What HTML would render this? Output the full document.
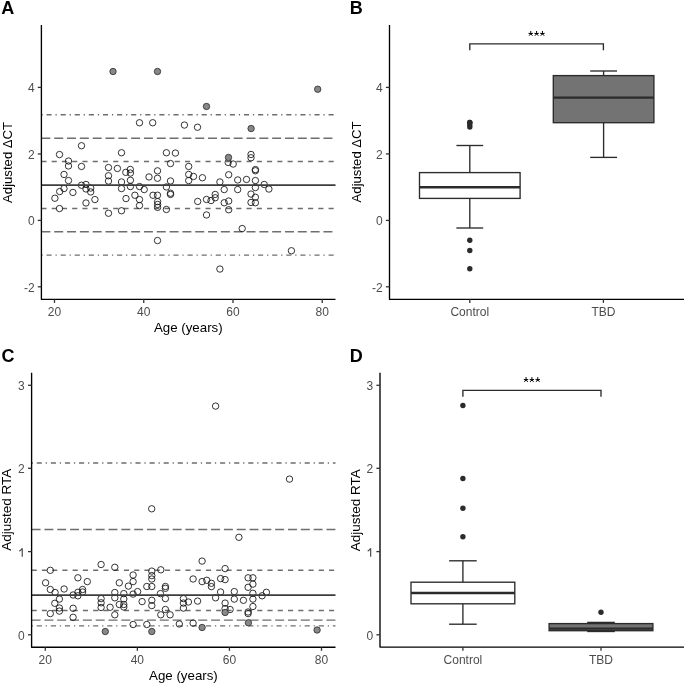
<!DOCTYPE html>
<html><head><meta charset="utf-8"><title>Figure</title>
<style>
html,body{margin:0;padding:0;background:#fff;width:685px;height:683px;overflow:hidden}
svg{display:block;filter:grayscale(1)}
text{font-family:'Liberation Sans',sans-serif}
</style></head>
<body>
<svg width="685" height="683" viewBox="0 0 685 683">
<rect width="685" height="683" fill="#fff"/>
<line x1="41.4" y1="114.7" x2="335.5" y2="114.7" stroke="#6e6e6e" stroke-width="1.45" stroke-dasharray="1.282 3.846 5.128 3.846"/>
<line x1="41.4" y1="138.3" x2="335.5" y2="138.3" stroke="#6e6e6e" stroke-width="1.45" stroke-dasharray="8.974 3.846"/>
<line x1="41.4" y1="161.5" x2="335.5" y2="161.5" stroke="#6e6e6e" stroke-width="1.45" stroke-dasharray="5.128 5.128"/>
<line x1="41.4" y1="208.4" x2="335.5" y2="208.4" stroke="#6e6e6e" stroke-width="1.45" stroke-dasharray="5.128 5.128"/>
<line x1="41.4" y1="231.7" x2="335.5" y2="231.7" stroke="#6e6e6e" stroke-width="1.45" stroke-dasharray="8.974 3.846"/>
<line x1="41.4" y1="255.1" x2="335.5" y2="255.1" stroke="#6e6e6e" stroke-width="1.45" stroke-dasharray="1.282 3.846 5.128 3.846"/>
<circle cx="139.5" cy="122.75" r="3.2" fill="none" stroke="#111111" stroke-width="0.85"/>
<circle cx="152.7" cy="122.75" r="3.2" fill="none" stroke="#111111" stroke-width="0.85"/>
<circle cx="184.39999999999998" cy="125.05" r="3.2" fill="none" stroke="#111111" stroke-width="0.85"/>
<circle cx="197.5" cy="127.25" r="3.2" fill="none" stroke="#111111" stroke-width="0.85"/>
<circle cx="81.5" cy="145.75" r="3.2" fill="none" stroke="#111111" stroke-width="0.85"/>
<circle cx="59.5" cy="154.55" r="3.2" fill="none" stroke="#111111" stroke-width="0.85"/>
<circle cx="121.5" cy="152.75" r="3.2" fill="none" stroke="#111111" stroke-width="0.85"/>
<circle cx="166.39999999999998" cy="152.75" r="3.2" fill="none" stroke="#111111" stroke-width="0.85"/>
<circle cx="175.39999999999998" cy="153.05" r="3.2" fill="none" stroke="#111111" stroke-width="0.85"/>
<circle cx="251.0" cy="154.45" r="3.2" fill="none" stroke="#111111" stroke-width="0.85"/>
<circle cx="251.0" cy="157.75" r="3.2" fill="none" stroke="#111111" stroke-width="0.85"/>
<circle cx="68.5" cy="161.05" r="3.2" fill="none" stroke="#111111" stroke-width="0.85"/>
<circle cx="170.5" cy="163.55" r="3.2" fill="none" stroke="#111111" stroke-width="0.85"/>
<circle cx="228.2" cy="162.45" r="3.2" fill="none" stroke="#111111" stroke-width="0.85"/>
<circle cx="233.2" cy="164.05" r="3.2" fill="none" stroke="#111111" stroke-width="0.85"/>
<circle cx="68.5" cy="165.95" r="3.2" fill="none" stroke="#111111" stroke-width="0.85"/>
<circle cx="81.5" cy="166.45" r="3.2" fill="none" stroke="#111111" stroke-width="0.85"/>
<circle cx="188.7" cy="166.45" r="3.2" fill="none" stroke="#111111" stroke-width="0.85"/>
<circle cx="108.5" cy="167.55" r="3.2" fill="none" stroke="#111111" stroke-width="0.85"/>
<circle cx="117.4" cy="168.45" r="3.2" fill="none" stroke="#111111" stroke-width="0.85"/>
<circle cx="130.29999999999998" cy="169.45" r="3.2" fill="none" stroke="#111111" stroke-width="0.85"/>
<circle cx="255.39999999999998" cy="169.55" r="3.2" fill="none" stroke="#111111" stroke-width="0.85"/>
<circle cx="255.39999999999998" cy="170.75" r="3.2" fill="none" stroke="#111111" stroke-width="0.85"/>
<circle cx="157.5" cy="170.85" r="3.2" fill="none" stroke="#111111" stroke-width="0.85"/>
<circle cx="125.8" cy="172.35" r="3.2" fill="none" stroke="#111111" stroke-width="0.85"/>
<circle cx="130.39999999999998" cy="173.05" r="3.2" fill="none" stroke="#111111" stroke-width="0.85"/>
<circle cx="64.0" cy="174.45" r="3.2" fill="none" stroke="#111111" stroke-width="0.85"/>
<circle cx="188.7" cy="174.45" r="3.2" fill="none" stroke="#111111" stroke-width="0.85"/>
<circle cx="228.7" cy="174.75" r="3.2" fill="none" stroke="#111111" stroke-width="0.85"/>
<circle cx="108.5" cy="175.75" r="3.2" fill="none" stroke="#111111" stroke-width="0.85"/>
<circle cx="193.5" cy="176.45" r="3.2" fill="none" stroke="#111111" stroke-width="0.85"/>
<circle cx="149.0" cy="176.95" r="3.2" fill="none" stroke="#111111" stroke-width="0.85"/>
<circle cx="202.39999999999998" cy="177.75" r="3.2" fill="none" stroke="#111111" stroke-width="0.85"/>
<circle cx="157.5" cy="178.25" r="3.2" fill="none" stroke="#111111" stroke-width="0.85"/>
<circle cx="246.5" cy="179.45" r="3.2" fill="none" stroke="#111111" stroke-width="0.85"/>
<circle cx="237.7" cy="179.95" r="3.2" fill="none" stroke="#111111" stroke-width="0.85"/>
<circle cx="130.39999999999998" cy="180.25" r="3.2" fill="none" stroke="#111111" stroke-width="0.85"/>
<circle cx="68.5" cy="180.55" r="3.2" fill="none" stroke="#111111" stroke-width="0.85"/>
<circle cx="188.7" cy="180.55" r="3.2" fill="none" stroke="#111111" stroke-width="0.85"/>
<circle cx="255.39999999999998" cy="180.55" r="3.2" fill="none" stroke="#111111" stroke-width="0.85"/>
<circle cx="170.5" cy="180.95" r="3.2" fill="none" stroke="#111111" stroke-width="0.85"/>
<circle cx="108.5" cy="181.05" r="3.2" fill="none" stroke="#111111" stroke-width="0.85"/>
<circle cx="121.5" cy="181.95" r="3.2" fill="none" stroke="#111111" stroke-width="0.85"/>
<circle cx="219.89999999999998" cy="181.95" r="3.2" fill="none" stroke="#111111" stroke-width="0.85"/>
<circle cx="86.0" cy="184.45" r="3.2" fill="none" stroke="#111111" stroke-width="0.85"/>
<circle cx="264.2" cy="184.45" r="3.2" fill="none" stroke="#111111" stroke-width="0.85"/>
<circle cx="81.5" cy="185.25" r="3.2" fill="none" stroke="#111111" stroke-width="0.85"/>
<circle cx="130.39999999999998" cy="186.55" r="3.2" fill="none" stroke="#111111" stroke-width="0.85"/>
<circle cx="139.5" cy="186.55" r="3.2" fill="none" stroke="#111111" stroke-width="0.85"/>
<circle cx="166.39999999999998" cy="186.95" r="3.2" fill="none" stroke="#111111" stroke-width="0.85"/>
<circle cx="255.39999999999998" cy="187.55" r="3.2" fill="none" stroke="#111111" stroke-width="0.85"/>
<circle cx="90.7" cy="188.05" r="3.2" fill="none" stroke="#111111" stroke-width="0.85"/>
<circle cx="64.0" cy="188.55" r="3.2" fill="none" stroke="#111111" stroke-width="0.85"/>
<circle cx="121.5" cy="188.55" r="3.2" fill="none" stroke="#111111" stroke-width="0.85"/>
<circle cx="86.0" cy="188.95" r="3.2" fill="none" stroke="#111111" stroke-width="0.85"/>
<circle cx="268.9" cy="189.05" r="3.2" fill="none" stroke="#111111" stroke-width="0.85"/>
<circle cx="144.2" cy="189.55" r="3.2" fill="none" stroke="#111111" stroke-width="0.85"/>
<circle cx="224.2" cy="189.55" r="3.2" fill="none" stroke="#111111" stroke-width="0.85"/>
<circle cx="237.7" cy="189.55" r="3.2" fill="none" stroke="#111111" stroke-width="0.85"/>
<circle cx="59.7" cy="191.55" r="3.2" fill="none" stroke="#111111" stroke-width="0.85"/>
<circle cx="90.7" cy="191.95" r="3.2" fill="none" stroke="#111111" stroke-width="0.85"/>
<circle cx="72.9" cy="192.45" r="3.2" fill="none" stroke="#111111" stroke-width="0.85"/>
<circle cx="170.5" cy="193.25" r="3.2" fill="none" stroke="#111111" stroke-width="0.85"/>
<circle cx="251.0" cy="194.05" r="3.2" fill="none" stroke="#111111" stroke-width="0.85"/>
<circle cx="170.5" cy="194.45" r="3.2" fill="none" stroke="#111111" stroke-width="0.85"/>
<circle cx="215.2" cy="194.45" r="3.2" fill="none" stroke="#111111" stroke-width="0.85"/>
<circle cx="134.89999999999998" cy="195.25" r="3.2" fill="none" stroke="#111111" stroke-width="0.85"/>
<circle cx="153.0" cy="195.25" r="3.2" fill="none" stroke="#111111" stroke-width="0.85"/>
<circle cx="157.5" cy="195.25" r="3.2" fill="none" stroke="#111111" stroke-width="0.85"/>
<circle cx="255.39999999999998" cy="197.25" r="3.2" fill="none" stroke="#111111" stroke-width="0.85"/>
<circle cx="215.2" cy="197.75" r="3.2" fill="none" stroke="#111111" stroke-width="0.85"/>
<circle cx="54.900000000000006" cy="198.25" r="3.2" fill="none" stroke="#111111" stroke-width="0.85"/>
<circle cx="126.0" cy="198.55" r="3.2" fill="none" stroke="#111111" stroke-width="0.85"/>
<circle cx="206.5" cy="199.45" r="3.2" fill="none" stroke="#111111" stroke-width="0.85"/>
<circle cx="94.9" cy="199.55" r="3.2" fill="none" stroke="#111111" stroke-width="0.85"/>
<circle cx="139.5" cy="199.55" r="3.2" fill="none" stroke="#111111" stroke-width="0.85"/>
<circle cx="211.0" cy="200.55" r="3.2" fill="none" stroke="#111111" stroke-width="0.85"/>
<circle cx="157.6" cy="201.65" r="3.2" fill="none" stroke="#111111" stroke-width="0.85"/>
<circle cx="228.7" cy="201.05" r="3.2" fill="none" stroke="#111111" stroke-width="0.85"/>
<circle cx="197.7" cy="201.45" r="3.2" fill="none" stroke="#111111" stroke-width="0.85"/>
<circle cx="251.0" cy="202.45" r="3.2" fill="none" stroke="#111111" stroke-width="0.85"/>
<circle cx="224.2" cy="202.75" r="3.2" fill="none" stroke="#111111" stroke-width="0.85"/>
<circle cx="255.39999999999998" cy="202.75" r="3.2" fill="none" stroke="#111111" stroke-width="0.85"/>
<circle cx="86.0" cy="202.95" r="3.2" fill="none" stroke="#111111" stroke-width="0.85"/>
<circle cx="157.6" cy="204.45" r="3.2" fill="none" stroke="#111111" stroke-width="0.85"/>
<circle cx="139.5" cy="205.55" r="3.2" fill="none" stroke="#111111" stroke-width="0.85"/>
<circle cx="157.6" cy="207.35" r="3.2" fill="none" stroke="#111111" stroke-width="0.85"/>
<circle cx="59.5" cy="208.55" r="3.2" fill="none" stroke="#111111" stroke-width="0.85"/>
<circle cx="166.39999999999998" cy="209.45" r="3.2" fill="none" stroke="#111111" stroke-width="0.85"/>
<circle cx="228.7" cy="209.75" r="3.2" fill="none" stroke="#111111" stroke-width="0.85"/>
<circle cx="121.5" cy="210.75" r="3.2" fill="none" stroke="#111111" stroke-width="0.85"/>
<circle cx="108.5" cy="213.25" r="3.2" fill="none" stroke="#111111" stroke-width="0.85"/>
<circle cx="206.5" cy="214.95" r="3.2" fill="none" stroke="#111111" stroke-width="0.85"/>
<circle cx="242.2" cy="228.55" r="3.2" fill="none" stroke="#111111" stroke-width="0.85"/>
<circle cx="157.5" cy="240.55" r="3.2" fill="none" stroke="#111111" stroke-width="0.85"/>
<circle cx="291.4" cy="250.75" r="3.2" fill="none" stroke="#111111" stroke-width="0.85"/>
<circle cx="219.89999999999998" cy="269.05" r="3.2" fill="none" stroke="#111111" stroke-width="0.85"/>
<line x1="41.4" y1="185.0" x2="335.5" y2="185.0" stroke="#3c3c3c" stroke-width="1.75"/>
<circle cx="113.0" cy="71.5" r="3.2" fill="#888888" stroke="#2a2a2a" stroke-width="0.8"/>
<circle cx="157.5" cy="71.5" r="3.2" fill="#888888" stroke="#2a2a2a" stroke-width="0.8"/>
<circle cx="206.5" cy="106.45" r="3.2" fill="#888888" stroke="#2a2a2a" stroke-width="0.8"/>
<circle cx="317.7" cy="89.25" r="3.2" fill="#888888" stroke="#2a2a2a" stroke-width="0.8"/>
<circle cx="251.1" cy="128.55" r="3.2" fill="#888888" stroke="#2a2a2a" stroke-width="0.8"/>
<circle cx="228.5" cy="157.45" r="3.2" fill="#888888" stroke="#2a2a2a" stroke-width="0.8"/>
<path d="M41.4 25 V299.3 H335.5" fill="none" stroke="#000000" stroke-width="1.35" stroke-linejoin="round"/>
<line x1="37.8" y1="87.4" x2="41.4" y2="87.4" stroke="#333" stroke-width="1.3"/>
<text x="34.6" y="92.2" text-anchor="end" font-size="12" fill="#4d4d4d">4</text>
<line x1="37.8" y1="153.95" x2="41.4" y2="153.95" stroke="#333" stroke-width="1.3"/>
<text x="34.6" y="158.75" text-anchor="end" font-size="12" fill="#4d4d4d">2</text>
<line x1="37.8" y1="220.4" x2="41.4" y2="220.4" stroke="#333" stroke-width="1.3"/>
<text x="34.6" y="225.20000000000002" text-anchor="end" font-size="12" fill="#4d4d4d">0</text>
<line x1="37.8" y1="286.8" x2="41.4" y2="286.8" stroke="#333" stroke-width="1.3"/>
<text x="34.6" y="291.6" text-anchor="end" font-size="12" fill="#4d4d4d">-2</text>
<line x1="54.5" y1="299.3" x2="54.5" y2="302.90000000000003" stroke="#333" stroke-width="1.3"/>
<text x="54.5" y="316.1" text-anchor="middle" font-size="12" fill="#4d4d4d">20</text>
<line x1="143.75" y1="299.3" x2="143.75" y2="302.90000000000003" stroke="#333" stroke-width="1.3"/>
<text x="143.75" y="316.1" text-anchor="middle" font-size="12" fill="#4d4d4d">40</text>
<line x1="233.0" y1="299.3" x2="233.0" y2="302.90000000000003" stroke="#333" stroke-width="1.3"/>
<text x="233.0" y="316.1" text-anchor="middle" font-size="12" fill="#4d4d4d">60</text>
<line x1="322.25" y1="299.3" x2="322.25" y2="302.90000000000003" stroke="#333" stroke-width="1.3"/>
<text x="322.25" y="316.1" text-anchor="middle" font-size="12" fill="#4d4d4d">80</text>
<text transform="translate(11.6,162.4) rotate(-90)" text-anchor="middle" font-size="13.15" fill="#000">Adjusted ΔCT</text>
<text x="188.3" y="331.5" text-anchor="middle" font-size="13.3" fill="#000">Age (years)</text>
<text x="1.3" y="14.0" font-size="18" font-weight="bold" fill="#000">A</text>
<path d="M389.5 25 V299.3 H684" fill="none" stroke="#000000" stroke-width="1.35" stroke-linejoin="round"/>
<line x1="385.9" y1="87.4" x2="389.5" y2="87.4" stroke="#333" stroke-width="1.3"/>
<text x="382.7" y="92.2" text-anchor="end" font-size="12" fill="#4d4d4d">4</text>
<line x1="385.9" y1="153.95" x2="389.5" y2="153.95" stroke="#333" stroke-width="1.3"/>
<text x="382.7" y="158.75" text-anchor="end" font-size="12" fill="#4d4d4d">2</text>
<line x1="385.9" y1="220.4" x2="389.5" y2="220.4" stroke="#333" stroke-width="1.3"/>
<text x="382.7" y="225.20000000000002" text-anchor="end" font-size="12" fill="#4d4d4d">0</text>
<line x1="385.9" y1="286.8" x2="389.5" y2="286.8" stroke="#333" stroke-width="1.3"/>
<text x="382.7" y="291.6" text-anchor="end" font-size="12" fill="#4d4d4d">-2</text>
<line x1="469.8" y1="299.3" x2="469.8" y2="302.90000000000003" stroke="#333" stroke-width="1.3"/>
<text x="469.8" y="316.1" text-anchor="middle" font-size="12" fill="#4d4d4d">Control</text>
<line x1="603.4" y1="299.3" x2="603.4" y2="302.90000000000003" stroke="#333" stroke-width="1.3"/>
<text x="603.4" y="316.1" text-anchor="middle" font-size="12" fill="#4d4d4d">TBD</text>
<text transform="translate(360.8,161.9) rotate(-90)" text-anchor="middle" font-size="13.15" fill="#000">Adjusted ΔCT</text>
<text x="349.8" y="14.0" font-size="18" font-weight="bold" fill="#000">B</text>
<line x1="469.8" y1="145.5" x2="469.8" y2="172.6" stroke="#2b2b2b" stroke-width="1.35"/>
<line x1="469.8" y1="198.4" x2="469.8" y2="228" stroke="#2b2b2b" stroke-width="1.35"/>
<line x1="456.40000000000003" y1="145.5" x2="483.2" y2="145.5" stroke="#2b2b2b" stroke-width="1.35"/>
<line x1="456.40000000000003" y1="228" x2="483.2" y2="228" stroke="#2b2b2b" stroke-width="1.35"/>
<rect x="419.5" y="172.6" width="100.6" height="25.80000000000001" fill="#ffffff" stroke="#2b2b2b" stroke-width="1.35"/>
<line x1="419.5" y1="187.3" x2="520.1" y2="187.3" stroke="#2b2b2b" stroke-width="2.4"/>
<circle cx="469.8" cy="122.5" r="2.7" fill="#2b2b2b"/>
<circle cx="469.8" cy="122.5" r="2.7" fill="#2b2b2b"/>
<circle cx="469.8" cy="124.8" r="2.7" fill="#2b2b2b"/>
<circle cx="469.8" cy="127" r="2.7" fill="#2b2b2b"/>
<circle cx="469.8" cy="240.3" r="2.7" fill="#2b2b2b"/>
<circle cx="469.8" cy="250.5" r="2.7" fill="#2b2b2b"/>
<circle cx="469.8" cy="268.8" r="2.7" fill="#2b2b2b"/>
<line x1="603.6" y1="71.0" x2="603.6" y2="75.6" stroke="#2b2b2b" stroke-width="1.35"/>
<line x1="603.6" y1="122.7" x2="603.6" y2="157.4" stroke="#2b2b2b" stroke-width="1.35"/>
<line x1="590.2" y1="71.0" x2="617.0" y2="71.0" stroke="#2b2b2b" stroke-width="1.35"/>
<line x1="590.2" y1="157.4" x2="617.0" y2="157.4" stroke="#2b2b2b" stroke-width="1.35"/>
<rect x="553.3000000000001" y="75.6" width="100.6" height="47.10000000000001" fill="#737373" stroke="#2b2b2b" stroke-width="1.35"/>
<line x1="553.3000000000001" y1="97.6" x2="653.9" y2="97.6" stroke="#2b2b2b" stroke-width="2.4"/>
<path d="M469.8 50.3 V43.8 H603.4 V50.3" fill="none" stroke="#2b2b2b" stroke-width="1.35"/><path d="M530.75 33.70 L530.75 31.35 M530.75 33.70 L532.57 33.38 M530.75 33.70 L532.20 35.42 M530.75 33.70 L529.30 35.42 M530.75 33.70 L528.93 33.38" stroke="#000" stroke-width="1.0" stroke-linecap="round" fill="none"/><path d="M536.60 33.70 L536.60 31.35 M536.60 33.70 L538.42 33.38 M536.60 33.70 L538.05 35.42 M536.60 33.70 L535.15 35.42 M536.60 33.70 L534.78 33.38" stroke="#000" stroke-width="1.0" stroke-linecap="round" fill="none"/><path d="M542.45 33.70 L542.45 31.35 M542.45 33.70 L544.27 33.38 M542.45 33.70 L543.90 35.42 M542.45 33.70 L541.00 35.42 M542.45 33.70 L540.63 33.38" stroke="#000" stroke-width="1.0" stroke-linecap="round" fill="none"/>
<line x1="31.6" y1="463.0" x2="335.5" y2="463.0" stroke="#6e6e6e" stroke-width="1.45" stroke-dasharray="1.282 3.846 5.128 3.846"/>
<line x1="31.6" y1="529.5" x2="335.5" y2="529.5" stroke="#6e6e6e" stroke-width="1.45" stroke-dasharray="8.974 3.846"/>
<line x1="31.6" y1="570.2" x2="335.5" y2="570.2" stroke="#6e6e6e" stroke-width="1.45" stroke-dasharray="5.128 5.128"/>
<line x1="31.6" y1="610.4" x2="335.5" y2="610.4" stroke="#6e6e6e" stroke-width="1.45" stroke-dasharray="5.128 5.128"/>
<line x1="31.6" y1="620.1" x2="335.5" y2="620.1" stroke="#6e6e6e" stroke-width="1.45" stroke-dasharray="8.974 3.846"/>
<line x1="31.6" y1="625.85" x2="335.5" y2="625.85" stroke="#6e6e6e" stroke-width="1.45" stroke-dasharray="1.282 3.846 5.128 3.846"/>
<circle cx="50.300000000000004" cy="570.3" r="3.2" fill="none" stroke="#111111" stroke-width="0.85"/>
<circle cx="45.6" cy="582.8" r="3.2" fill="none" stroke="#111111" stroke-width="0.85"/>
<circle cx="50.300000000000004" cy="589.5" r="3.2" fill="none" stroke="#111111" stroke-width="0.85"/>
<circle cx="55.1" cy="592.5" r="3.2" fill="none" stroke="#111111" stroke-width="0.85"/>
<circle cx="64.1" cy="589.0" r="3.2" fill="none" stroke="#111111" stroke-width="0.85"/>
<circle cx="59.4" cy="599.0999999999999" r="3.2" fill="none" stroke="#111111" stroke-width="0.85"/>
<circle cx="54.800000000000004" cy="603.3" r="3.2" fill="none" stroke="#111111" stroke-width="0.85"/>
<circle cx="59.4" cy="608.0" r="3.2" fill="none" stroke="#111111" stroke-width="0.85"/>
<circle cx="59.4" cy="611.0999999999999" r="3.2" fill="none" stroke="#111111" stroke-width="0.85"/>
<circle cx="50.300000000000004" cy="613.5999999999999" r="3.2" fill="none" stroke="#111111" stroke-width="0.85"/>
<circle cx="73.1" cy="595.0" r="3.2" fill="none" stroke="#111111" stroke-width="0.85"/>
<circle cx="77.89999999999999" cy="577.8" r="3.2" fill="none" stroke="#111111" stroke-width="0.85"/>
<circle cx="77.89999999999999" cy="592.3" r="3.2" fill="none" stroke="#111111" stroke-width="0.85"/>
<circle cx="77.89999999999999" cy="595.8" r="3.2" fill="none" stroke="#111111" stroke-width="0.85"/>
<circle cx="82.6" cy="589.5" r="3.2" fill="none" stroke="#111111" stroke-width="0.85"/>
<circle cx="82.6" cy="592.0" r="3.2" fill="none" stroke="#111111" stroke-width="0.85"/>
<circle cx="87.3" cy="581.5999999999999" r="3.2" fill="none" stroke="#111111" stroke-width="0.85"/>
<circle cx="73.1" cy="608.3" r="3.2" fill="none" stroke="#111111" stroke-width="0.85"/>
<circle cx="73.1" cy="617.3" r="3.2" fill="none" stroke="#111111" stroke-width="0.85"/>
<circle cx="101.1" cy="564.5" r="3.2" fill="none" stroke="#111111" stroke-width="0.85"/>
<circle cx="101.1" cy="598.5999999999999" r="3.2" fill="none" stroke="#111111" stroke-width="0.85"/>
<circle cx="101.1" cy="602.8" r="3.2" fill="none" stroke="#111111" stroke-width="0.85"/>
<circle cx="101.1" cy="607.5" r="3.2" fill="none" stroke="#111111" stroke-width="0.85"/>
<circle cx="110.1" cy="607.3" r="3.2" fill="none" stroke="#111111" stroke-width="0.85"/>
<circle cx="114.8" cy="567.3" r="3.2" fill="none" stroke="#111111" stroke-width="0.85"/>
<circle cx="119.3" cy="582.8" r="3.2" fill="none" stroke="#111111" stroke-width="0.85"/>
<circle cx="114.8" cy="592.5" r="3.2" fill="none" stroke="#111111" stroke-width="0.85"/>
<circle cx="114.8" cy="597.8" r="3.2" fill="none" stroke="#111111" stroke-width="0.85"/>
<circle cx="119.3" cy="604.5" r="3.2" fill="none" stroke="#111111" stroke-width="0.85"/>
<circle cx="114.8" cy="614.8" r="3.2" fill="none" stroke="#111111" stroke-width="0.85"/>
<circle cx="123.8" cy="593.5999999999999" r="3.2" fill="none" stroke="#111111" stroke-width="0.85"/>
<circle cx="123.8" cy="599.0" r="3.2" fill="none" stroke="#111111" stroke-width="0.85"/>
<circle cx="123.8" cy="604.5" r="3.2" fill="none" stroke="#111111" stroke-width="0.85"/>
<circle cx="123.8" cy="607.0" r="3.2" fill="none" stroke="#111111" stroke-width="0.85"/>
<circle cx="128.4" cy="586.0999999999999" r="3.2" fill="none" stroke="#111111" stroke-width="0.85"/>
<circle cx="133.1" cy="575.0" r="3.2" fill="none" stroke="#111111" stroke-width="0.85"/>
<circle cx="133.1" cy="581.5999999999999" r="3.2" fill="none" stroke="#111111" stroke-width="0.85"/>
<circle cx="133.1" cy="594.0999999999999" r="3.2" fill="none" stroke="#111111" stroke-width="0.85"/>
<circle cx="137.6" cy="591.5999999999999" r="3.2" fill="none" stroke="#111111" stroke-width="0.85"/>
<circle cx="142.1" cy="601.5999999999999" r="3.2" fill="none" stroke="#111111" stroke-width="0.85"/>
<circle cx="133.1" cy="624.5" r="3.2" fill="none" stroke="#111111" stroke-width="0.85"/>
<circle cx="146.79999999999998" cy="586.5" r="3.2" fill="none" stroke="#111111" stroke-width="0.85"/>
<circle cx="146.79999999999998" cy="624.5" r="3.2" fill="none" stroke="#111111" stroke-width="0.85"/>
<circle cx="238.9" cy="537.3" r="3.2" fill="none" stroke="#111111" stroke-width="0.85"/>
<circle cx="202.1" cy="561.0999999999999" r="3.2" fill="none" stroke="#111111" stroke-width="0.85"/>
<circle cx="151.79999999999998" cy="571.0999999999999" r="3.2" fill="none" stroke="#111111" stroke-width="0.85"/>
<circle cx="160.79999999999998" cy="569.8" r="3.2" fill="none" stroke="#111111" stroke-width="0.85"/>
<circle cx="225.1" cy="568.5999999999999" r="3.2" fill="none" stroke="#111111" stroke-width="0.85"/>
<circle cx="151.79999999999998" cy="575.5999999999999" r="3.2" fill="none" stroke="#111111" stroke-width="0.85"/>
<circle cx="151.79999999999998" cy="579.0" r="3.2" fill="none" stroke="#111111" stroke-width="0.85"/>
<circle cx="151.79999999999998" cy="586.5" r="3.2" fill="none" stroke="#111111" stroke-width="0.85"/>
<circle cx="165.4" cy="586.5" r="3.2" fill="none" stroke="#111111" stroke-width="0.85"/>
<circle cx="165.4" cy="588.3" r="3.2" fill="none" stroke="#111111" stroke-width="0.85"/>
<circle cx="160.4" cy="593.5999999999999" r="3.2" fill="none" stroke="#111111" stroke-width="0.85"/>
<circle cx="165.4" cy="598.5999999999999" r="3.2" fill="none" stroke="#111111" stroke-width="0.85"/>
<circle cx="151.79999999999998" cy="600.3" r="3.2" fill="none" stroke="#111111" stroke-width="0.85"/>
<circle cx="151.79999999999998" cy="605.5999999999999" r="3.2" fill="none" stroke="#111111" stroke-width="0.85"/>
<circle cx="165.4" cy="609.5" r="3.2" fill="none" stroke="#111111" stroke-width="0.85"/>
<circle cx="160.79999999999998" cy="614.8" r="3.2" fill="none" stroke="#111111" stroke-width="0.85"/>
<circle cx="170.1" cy="614.8" r="3.2" fill="none" stroke="#111111" stroke-width="0.85"/>
<circle cx="193.1" cy="579.0" r="3.2" fill="none" stroke="#111111" stroke-width="0.85"/>
<circle cx="202.1" cy="581.5999999999999" r="3.2" fill="none" stroke="#111111" stroke-width="0.85"/>
<circle cx="206.79999999999998" cy="580.3" r="3.2" fill="none" stroke="#111111" stroke-width="0.85"/>
<circle cx="211.4" cy="583.3" r="3.2" fill="none" stroke="#111111" stroke-width="0.85"/>
<circle cx="211.4" cy="586.5999999999999" r="3.2" fill="none" stroke="#111111" stroke-width="0.85"/>
<circle cx="183.4" cy="598.5999999999999" r="3.2" fill="none" stroke="#111111" stroke-width="0.85"/>
<circle cx="183.4" cy="603.0999999999999" r="3.2" fill="none" stroke="#111111" stroke-width="0.85"/>
<circle cx="188.4" cy="602.0" r="3.2" fill="none" stroke="#111111" stroke-width="0.85"/>
<circle cx="183.4" cy="608.0999999999999" r="3.2" fill="none" stroke="#111111" stroke-width="0.85"/>
<circle cx="197.6" cy="601.0999999999999" r="3.2" fill="none" stroke="#111111" stroke-width="0.85"/>
<circle cx="179.29999999999998" cy="624.0" r="3.2" fill="none" stroke="#111111" stroke-width="0.85"/>
<circle cx="193.1" cy="623.0999999999999" r="3.2" fill="none" stroke="#111111" stroke-width="0.85"/>
<circle cx="215.6" cy="597.8" r="3.2" fill="none" stroke="#111111" stroke-width="0.85"/>
<circle cx="220.6" cy="578.5999999999999" r="3.2" fill="none" stroke="#111111" stroke-width="0.85"/>
<circle cx="225.1" cy="579.5999999999999" r="3.2" fill="none" stroke="#111111" stroke-width="0.85"/>
<circle cx="220.6" cy="592.0" r="3.2" fill="none" stroke="#111111" stroke-width="0.85"/>
<circle cx="225.1" cy="603.0999999999999" r="3.2" fill="none" stroke="#111111" stroke-width="0.85"/>
<circle cx="225.1" cy="608.5999999999999" r="3.2" fill="none" stroke="#111111" stroke-width="0.85"/>
<circle cx="230.1" cy="609.5" r="3.2" fill="none" stroke="#111111" stroke-width="0.85"/>
<circle cx="234.29999999999998" cy="591.5999999999999" r="3.2" fill="none" stroke="#111111" stroke-width="0.85"/>
<circle cx="234.29999999999998" cy="599.0999999999999" r="3.2" fill="none" stroke="#111111" stroke-width="0.85"/>
<circle cx="243.4" cy="600.3" r="3.2" fill="none" stroke="#111111" stroke-width="0.85"/>
<circle cx="248.1" cy="577.8" r="3.2" fill="none" stroke="#111111" stroke-width="0.85"/>
<circle cx="248.1" cy="587.3" r="3.2" fill="none" stroke="#111111" stroke-width="0.85"/>
<circle cx="248.1" cy="612.0" r="3.2" fill="none" stroke="#111111" stroke-width="0.85"/>
<circle cx="248.1" cy="613.5999999999999" r="3.2" fill="none" stroke="#111111" stroke-width="0.85"/>
<circle cx="252.9" cy="577.8" r="3.2" fill="none" stroke="#111111" stroke-width="0.85"/>
<circle cx="252.9" cy="584.0999999999999" r="3.2" fill="none" stroke="#111111" stroke-width="0.85"/>
<circle cx="252.9" cy="593.3" r="3.2" fill="none" stroke="#111111" stroke-width="0.85"/>
<circle cx="252.9" cy="599.0999999999999" r="3.2" fill="none" stroke="#111111" stroke-width="0.85"/>
<circle cx="252.9" cy="606.5" r="3.2" fill="none" stroke="#111111" stroke-width="0.85"/>
<circle cx="262.1" cy="595.8" r="3.2" fill="none" stroke="#111111" stroke-width="0.85"/>
<circle cx="266.40000000000003" cy="592.3" r="3.2" fill="none" stroke="#111111" stroke-width="0.85"/>
<circle cx="215.6" cy="406.1" r="3.2" fill="none" stroke="#111111" stroke-width="0.85"/>
<circle cx="289.5" cy="479.1" r="3.2" fill="none" stroke="#111111" stroke-width="0.85"/>
<circle cx="151.7" cy="508.8" r="3.2" fill="none" stroke="#111111" stroke-width="0.85"/>
<line x1="31.6" y1="595.0" x2="335.5" y2="595.0" stroke="#3c3c3c" stroke-width="1.75"/>
<circle cx="105.3" cy="631.5" r="3.2" fill="#888888" stroke="#2a2a2a" stroke-width="0.8"/>
<circle cx="151.79999999999998" cy="631.5" r="3.2" fill="#888888" stroke="#2a2a2a" stroke-width="0.8"/>
<circle cx="202.1" cy="627.5" r="3.2" fill="#888888" stroke="#2a2a2a" stroke-width="0.8"/>
<circle cx="225.1" cy="612.5" r="3.2" fill="#888888" stroke="#2a2a2a" stroke-width="0.8"/>
<circle cx="248.4" cy="622.8" r="3.2" fill="#888888" stroke="#2a2a2a" stroke-width="0.8"/>
<circle cx="317.1" cy="630.0" r="3.2" fill="#888888" stroke="#2a2a2a" stroke-width="0.8"/>
<path d="M31.6 372.7 V647.2 H335.5" fill="none" stroke="#000000" stroke-width="1.35" stroke-linejoin="round"/>
<line x1="28.0" y1="385.3" x2="31.6" y2="385.3" stroke="#333" stroke-width="1.3"/>
<text x="24.8" y="390.1" text-anchor="end" font-size="12" fill="#4d4d4d">3</text>
<line x1="28.0" y1="468.3" x2="31.6" y2="468.3" stroke="#333" stroke-width="1.3"/>
<text x="24.8" y="473.1" text-anchor="end" font-size="12" fill="#4d4d4d">2</text>
<line x1="28.0" y1="551.6" x2="31.6" y2="551.6" stroke="#333" stroke-width="1.3"/>
<path d="M22.25 556.75 V548.15 M22.25 548.25 C21.60 549.55 20.50 550.55 19.30 551.15" fill="none" stroke="#4d4d4d" stroke-width="1.2"/>
<line x1="28.0" y1="634.8" x2="31.6" y2="634.8" stroke="#333" stroke-width="1.3"/>
<text x="24.8" y="639.5999999999999" text-anchor="end" font-size="12" fill="#4d4d4d">0</text>
<line x1="45.3" y1="647.2" x2="45.3" y2="650.8000000000001" stroke="#333" stroke-width="1.3"/>
<text x="45.3" y="664.0" text-anchor="middle" font-size="12" fill="#4d4d4d">20</text>
<line x1="137.36599999999999" y1="647.2" x2="137.36599999999999" y2="650.8000000000001" stroke="#333" stroke-width="1.3"/>
<text x="137.36599999999999" y="664.0" text-anchor="middle" font-size="12" fill="#4d4d4d">40</text>
<line x1="229.43200000000002" y1="647.2" x2="229.43200000000002" y2="650.8000000000001" stroke="#333" stroke-width="1.3"/>
<text x="229.43200000000002" y="664.0" text-anchor="middle" font-size="12" fill="#4d4d4d">60</text>
<line x1="321.498" y1="647.2" x2="321.498" y2="650.8000000000001" stroke="#333" stroke-width="1.3"/>
<text x="321.498" y="664.0" text-anchor="middle" font-size="12" fill="#4d4d4d">80</text>
<text transform="translate(11.1,509.8) rotate(-90)" text-anchor="middle" font-size="13.5" fill="#000">Adjusted RTA</text>
<text x="183.45" y="679.5" text-anchor="middle" font-size="13.3" fill="#000">Age (years)</text>
<text x="1.4" y="361.9" font-size="18" font-weight="bold" fill="#000">C</text>
<path d="M380 372.7 V647.1 H684" fill="none" stroke="#000000" stroke-width="1.35" stroke-linejoin="round"/>
<line x1="376.4" y1="385.3" x2="380" y2="385.3" stroke="#333" stroke-width="1.3"/>
<text x="373.2" y="390.1" text-anchor="end" font-size="12" fill="#4d4d4d">3</text>
<line x1="376.4" y1="468.3" x2="380" y2="468.3" stroke="#333" stroke-width="1.3"/>
<text x="373.2" y="473.1" text-anchor="end" font-size="12" fill="#4d4d4d">2</text>
<line x1="376.4" y1="551.6" x2="380" y2="551.6" stroke="#333" stroke-width="1.3"/>
<path d="M370.65 556.75 V548.15 M370.65 548.25 C370.00 549.55 368.90 550.55 367.70 551.15" fill="none" stroke="#4d4d4d" stroke-width="1.2"/>
<line x1="376.4" y1="634.8" x2="380" y2="634.8" stroke="#333" stroke-width="1.3"/>
<text x="373.2" y="639.5999999999999" text-anchor="end" font-size="12" fill="#4d4d4d">0</text>
<line x1="462.9" y1="647.1" x2="462.9" y2="650.7" stroke="#333" stroke-width="1.3"/>
<text x="462.9" y="663.9" text-anchor="middle" font-size="12" fill="#4d4d4d">Control</text>
<line x1="601.0" y1="647.1" x2="601.0" y2="650.7" stroke="#333" stroke-width="1.3"/>
<text x="601.0" y="663.9" text-anchor="middle" font-size="12" fill="#4d4d4d">TBD</text>
<text transform="translate(359.8,510.2) rotate(-90)" text-anchor="middle" font-size="13.5" fill="#000">Adjusted RTA</text>
<text x="349.8" y="361.9" font-size="18" font-weight="bold" fill="#000">D</text>
<line x1="462.9" y1="560.8" x2="462.9" y2="582.2" stroke="#2b2b2b" stroke-width="1.35"/>
<line x1="462.9" y1="603.8" x2="462.9" y2="624.2" stroke="#2b2b2b" stroke-width="1.35"/>
<line x1="449.09999999999997" y1="560.8" x2="476.7" y2="560.8" stroke="#2b2b2b" stroke-width="1.35"/>
<line x1="449.09999999999997" y1="624.2" x2="476.7" y2="624.2" stroke="#2b2b2b" stroke-width="1.35"/>
<rect x="411.0" y="582.2" width="103.8" height="21.59999999999991" fill="#ffffff" stroke="#2b2b2b" stroke-width="1.35"/>
<line x1="411.0" y1="593" x2="514.8" y2="593" stroke="#2b2b2b" stroke-width="2.4"/>
<circle cx="462.9" cy="405.5" r="2.7" fill="#2b2b2b"/>
<circle cx="462.9" cy="478.5" r="2.7" fill="#2b2b2b"/>
<circle cx="462.9" cy="508.2" r="2.7" fill="#2b2b2b"/>
<circle cx="462.9" cy="536.8" r="2.7" fill="#2b2b2b"/>
<line x1="601.0" y1="622.4" x2="601.0" y2="623.6" stroke="#2b2b2b" stroke-width="1.35"/>
<line x1="601.0" y1="630.7" x2="601.0" y2="631.5" stroke="#2b2b2b" stroke-width="1.35"/>
<line x1="587.2" y1="622.4" x2="614.8" y2="622.4" stroke="#2b2b2b" stroke-width="1.35"/>
<line x1="587.2" y1="631.5" x2="614.8" y2="631.5" stroke="#2b2b2b" stroke-width="1.35"/>
<rect x="549.1" y="623.6" width="103.8" height="7.100000000000023" fill="#737373" stroke="#2b2b2b" stroke-width="1.35"/>
<line x1="549.1" y1="628.6" x2="652.9" y2="628.6" stroke="#2b2b2b" stroke-width="2.4"/>
<circle cx="601.0" cy="612.2" r="2.7" fill="#2b2b2b"/>
<path d="M462.9 396.8 V390.4 H601.0 V396.8" fill="none" stroke="#2b2b2b" stroke-width="1.35"/><path d="M526.05 379.85 L526.05 377.50 M526.05 379.85 L527.87 379.53 M526.05 379.85 L527.50 381.57 M526.05 379.85 L524.60 381.57 M526.05 379.85 L524.23 379.53" stroke="#000" stroke-width="1.0" stroke-linecap="round" fill="none"/><path d="M531.90 379.85 L531.90 377.50 M531.90 379.85 L533.72 379.53 M531.90 379.85 L533.35 381.57 M531.90 379.85 L530.45 381.57 M531.90 379.85 L530.08 379.53" stroke="#000" stroke-width="1.0" stroke-linecap="round" fill="none"/><path d="M537.75 379.85 L537.75 377.50 M537.75 379.85 L539.57 379.53 M537.75 379.85 L539.20 381.57 M537.75 379.85 L536.30 381.57 M537.75 379.85 L535.93 379.53" stroke="#000" stroke-width="1.0" stroke-linecap="round" fill="none"/>
</svg>
</body></html>
